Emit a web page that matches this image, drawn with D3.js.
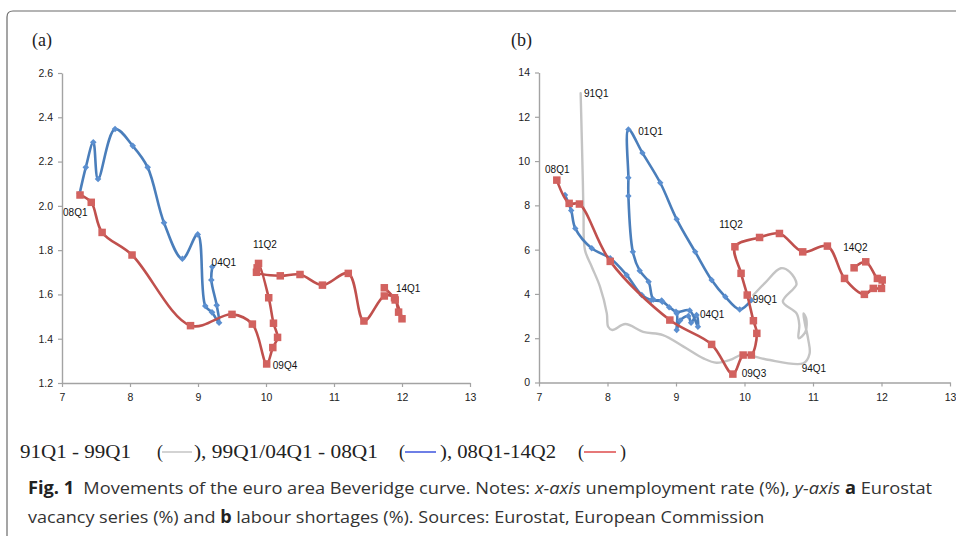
<!DOCTYPE html>
<html><head><meta charset="utf-8">
<script src="https://cdn.jsdelivr.net/npm/d3@7"></script>
<style>body{margin:0;background:#fff}svg{display:block}</style>
</head><body>
<svg id="c" width="956" height="536"></svg>
<script>
// ---------- data ----------
const xTicks = [7, 8, 9, 10, 11, 12, 13];
const yTicksA = [1.2, 1.4, 1.6, 1.8, 2.0, 2.2, 2.4, 2.6];
const yTicksB = [0, 2, 4, 6, 8, 10, 12, 14];

// panel (a): x unemployment %, y Eurostat vacancy %
const aBlue = [[9.21,1.725],[9.196,1.665],[9.275,1.551],[9.31,1.472],[9.206,1.519],[9.107,1.548],
  [8.996,1.871],[8.77,1.761],[8.5,1.924],[8.26,2.174],[8.04,2.271],[7.78,2.347],[7.53,2.121],
  [7.46,2.287],[7.35,2.174],[7.26,2.056]];
const aRed = [[7.265,2.049],[7.43,2.016],[7.59,1.88],[8.03,1.778],[8.89,1.459],[9.5,1.51],[9.8,1.466],
  [10.01,1.286],[10.1,1.36],[10.17,1.406],[10.11,1.47],[10.04,1.585],[9.89,1.74],[9.87,1.72],[9.86,1.70],
  [10.21,1.684],[10.5,1.69],[10.83,1.642],[11.21,1.695],[11.44,1.48],[11.74,1.593],[11.89,1.585],
  [11.95,1.52],[12.0,1.49],[11.9,1.575],[11.74,1.63]];
const aLabels = [["08Q1",7.015,1.954],["04Q1",9.2,1.73],["11Q2",9.81,1.809],["14Q1",11.91,1.609],["09Q4",10.1,1.263]];

// panel (b): x unemployment %, y labour shortages %
const bGray = [[7.608,13.06],[7.625,11.0],[7.64,9.1],[7.65,7.6],[7.67,6.0],[7.77,5.23],[7.89,4.33],
  [7.99,3.12],[8.01,2.52],[8.07,2.37],[8.26,2.64],[8.52,2.29],[8.81,2.14],[9.11,1.62],[9.4,1.09],
  [9.59,0.89],[9.79,1.02],[9.98,1.27],[10.32,1.04],[10.86,0.87],[10.95,1.3],[10.93,1.95],[10.88,2.7],
  [10.86,3.12],[10.9,2.9],[10.89,2.29],[10.79,2.0],[10.8,2.6],[10.76,3.12],[10.56,3.65],[10.72,4.25],
  [10.76,4.45],[10.66,5.0],[10.53,5.16],[10.3,4.5],[10.13,3.95]];
const bBlue = [[10.1,3.72],[9.93,3.3],[9.72,3.87],[9.52,4.63],[9.28,5.9],[9.01,7.37],[8.77,9.02],
  [8.51,10.37],[8.305,11.43],[8.305,9.25],[8.305,8.42],[8.37,5.9],[8.47,5.05],[8.6,4.55],[8.67,3.75],
  [8.79,3.7],[8.9,3.4],[9.01,3.12],[9.01,2.37],[9.06,2.8],[9.18,3.0],[9.22,2.7],[9.3,3.05],[9.32,2.52],
  [9.2,3.25],[9.0,3.2],[8.8,3.65],[8.64,3.72],[8.5,3.95],[8.28,4.85],[8.04,5.61],[7.77,6.06],
  [7.53,6.96],[7.47,7.77],[7.38,8.47]];
const bRed = [[7.26,9.14],[7.44,8.09],[7.59,8.06],[8.04,5.47],[8.91,2.82],[9.52,1.72],[9.83,0.38],
  [9.98,1.24],[10.1,1.24],[10.18,2.22],[10.13,2.79],[10.04,3.95],[9.95,4.93],[9.86,6.13],[10.22,6.55],
  [10.51,6.73],[10.85,5.9],[11.21,6.16],[11.46,4.7],[11.75,3.98],[11.88,4.25],[12.0,4.25],[12.01,4.63],
  [11.94,4.7],[11.77,5.45],[11.6,5.18]];
const bLabels = [["91Q1",7.657,12.9],["01Q1",8.45,11.17],["08Q1",7.088,9.44],["11Q2",9.63,6.96],
  ["14Q2",11.44,5.95],["99Q1",10.12,3.6],["04Q1",9.35,2.9],["09Q3",9.96,0.235],["94Q1",10.835,0.49]];

const legendTexts = ["91Q1 - 99Q1", "), 99Q1/04Q1 - 08Q1", "), 08Q1-14Q2", ")"];
const legendColors = ["#c8c8c8", "#4a5fe0", "#e05656"];

// ---------- drawing ----------
const svg = d3.select("#c");
const C = {blueL:"#4a7ebb", blueM:"#5b8fd0", redL:"#c0504d", redM:"#d2625f", gray:"#c4c4c4", axis:"#a3a3a3"};

// frame
svg.append("path").attr("d","M7,540V17Q7,11 13,11H960").attr("fill","none").attr("stroke","#6a6a6a").attr("stroke-width",1.2);

function panel(xr, yr, yDomain, yTicks, yFmt) {
  const x = d3.scaleLinear().domain([7,13]).range(xr);
  const y = d3.scaleLinear().domain(yDomain).range(yr);
  const g = svg.append("g");
  const ya = g.append("g").attr("transform",`translate(${xr[0]},0)`)
    .call(d3.axisLeft(y).tickValues(yTicks).tickFormat(yFmt).tickSize(4).tickSizeOuter(0).tickPadding(5));
  const xa = g.append("g").attr("transform",`translate(0,${yr[0]})`)
    .call(d3.axisBottom(x).tickValues(xTicks).tickFormat(d3.format("d")).tickSize(4).tickSizeOuter(0).tickPadding(7));
  [ya, xa].forEach(a => {
    a.select(".domain").attr("stroke",C.axis).attr("stroke-width",1.4);
    a.selectAll(".tick line").attr("stroke",C.axis).attr("stroke-width",1.2);
    a.selectAll("text").attr("fill","#222").style("font-family","'Liberation Sans',Arial,sans-serif").style("font-size","10.5px");
  });
  return {g, x, y};
}
const line = (p) => d3.line().x(d => p.x(d[0])).y(d => p.y(d[1])).curve(d3.curveCatmullRom.alpha(0.5));

function series(p, data, color, width) {
  p.g.append("path").datum(data).attr("d", line(p)).attr("fill","none").attr("stroke",color)
    .attr("stroke-width",width).attr("stroke-linejoin","round").attr("stroke-linecap","round");
}
function diamonds(p, data, color, s) {
  p.g.append("g").selectAll("path").data(data).join("path")
    .attr("d", d => `M${p.x(d[0])},${p.y(d[1])-s}l${s},${s}l${-s},${s}l${-s},${-s}z`).attr("fill",color);
}
function squares(p, data, color, s) {
  p.g.append("g").selectAll("rect").data(data).join("rect")
    .attr("x", d => p.x(d[0])-s/2).attr("y", d => p.y(d[1])-s/2).attr("width",s).attr("height",s).attr("fill",color);
}
function labels(p, data) {
  p.g.append("g").selectAll("text").data(data).join("text")
    .attr("x", d => p.x(d[1])).attr("y", d => p.y(d[2])).text(d => d[0])
    .attr("fill","#111").style("font-family","'Liberation Sans',Arial,sans-serif").style("font-size","10px");
}

// panel a
const pa = panel([62,470],[383,73],[1.2,2.6],yTicksA,d3.format(".1f"));
series(pa, aBlue, C.blueL, 2.6); diamonds(pa, aBlue, C.blueM, 3.3);
series(pa, aRed, C.redL, 2.6); squares(pa, aRed, C.redM, 7.5);
labels(pa, aLabels);

// panel b
const pb = panel([539,950],[382.5,72.5],[0,14],yTicksB,d3.format("d"));
series(pb, bGray, C.gray, 2.4);
series(pb, bBlue, C.blueL, 2.6); diamonds(pb, bBlue, C.blueM, 3.2);
series(pb, bRed, C.redL, 2.6); squares(pb, bRed, C.redM, 7.5);
labels(pb, bLabels);

// panel tags
const serif = "'Liberation Serif','Times New Roman',serif";
svg.append("text").attr("x",32).attr("y",46).text("(a)").style("font-family",serif).style("font-size","18px").attr("fill","#222");
svg.append("text").attr("x",511).attr("y",46).text("(b)").style("font-family",serif).style("font-size","18px").attr("fill","#222");

// legend: text pieces [x, width], "(" positions and sample lines
const legText = [[20,111],[194,184],[440,116],[620,0]];
const legOpen = [157,399,578];
const legLine = [[162,192],[405,436],[584,616]];
const lg = svg.append("g").style("font-family",serif).style("font-size","18px").attr("fill","#222");
legendTexts.forEach((t,i) => {
  const tx = lg.append("text").attr("x",legText[i][0]).attr("y",458).text(t);
  if (legText[i][1] > 0) tx.attr("textLength",legText[i][1]).attr("lengthAdjust","spacingAndGlyphs");
});
legendColors.forEach((c,i) => {
  lg.append("text").attr("x",legOpen[i]).attr("y",458).text("(");
  lg.append("line").attr("x1",legLine[i][0]).attr("x2",legLine[i][1]).attr("y1",452).attr("y2",452).attr("stroke",c).attr("stroke-width",1.6);
});

// caption
const sans = "'Open Sans','Noto Sans',sans-serif";
function captionLine(y, parts, targetW) {
  const t = svg.append("text").attr("x",0).attr("y",0).style("font-family",sans).style("font-size","17px").attr("fill","#333")
    .attr("transform",`translate(28,${y})`);
  parts.forEach(p => {
    const s = t.append("tspan").text(p[0]);
    if (p[1]==="b") s.style("font-weight","700").attr("fill","#222");
    if (p[1]==="i") s.style("font-style","italic");
  });
  const w = t.node().getComputedTextLength();
  t.attr("transform",`translate(28,${y}) scale(${targetW/w},1)`);
}
captionLine(494, [["Fig. 1","b"],["\u2002Movements of the euro area Beveridge curve. Notes: ",""],["x-axis","i"],
  [" unemployment rate (%), ",""],["y-axis","i"],[" ",""],["a","b"],[" Eurostat",""]], 905);
captionLine(523, [["vacancy series (%) and ",""],["b","b"],[" labour shortages (%). Sources: Eurostat, European Commission",""]], 737);
</script>
</body></html>
